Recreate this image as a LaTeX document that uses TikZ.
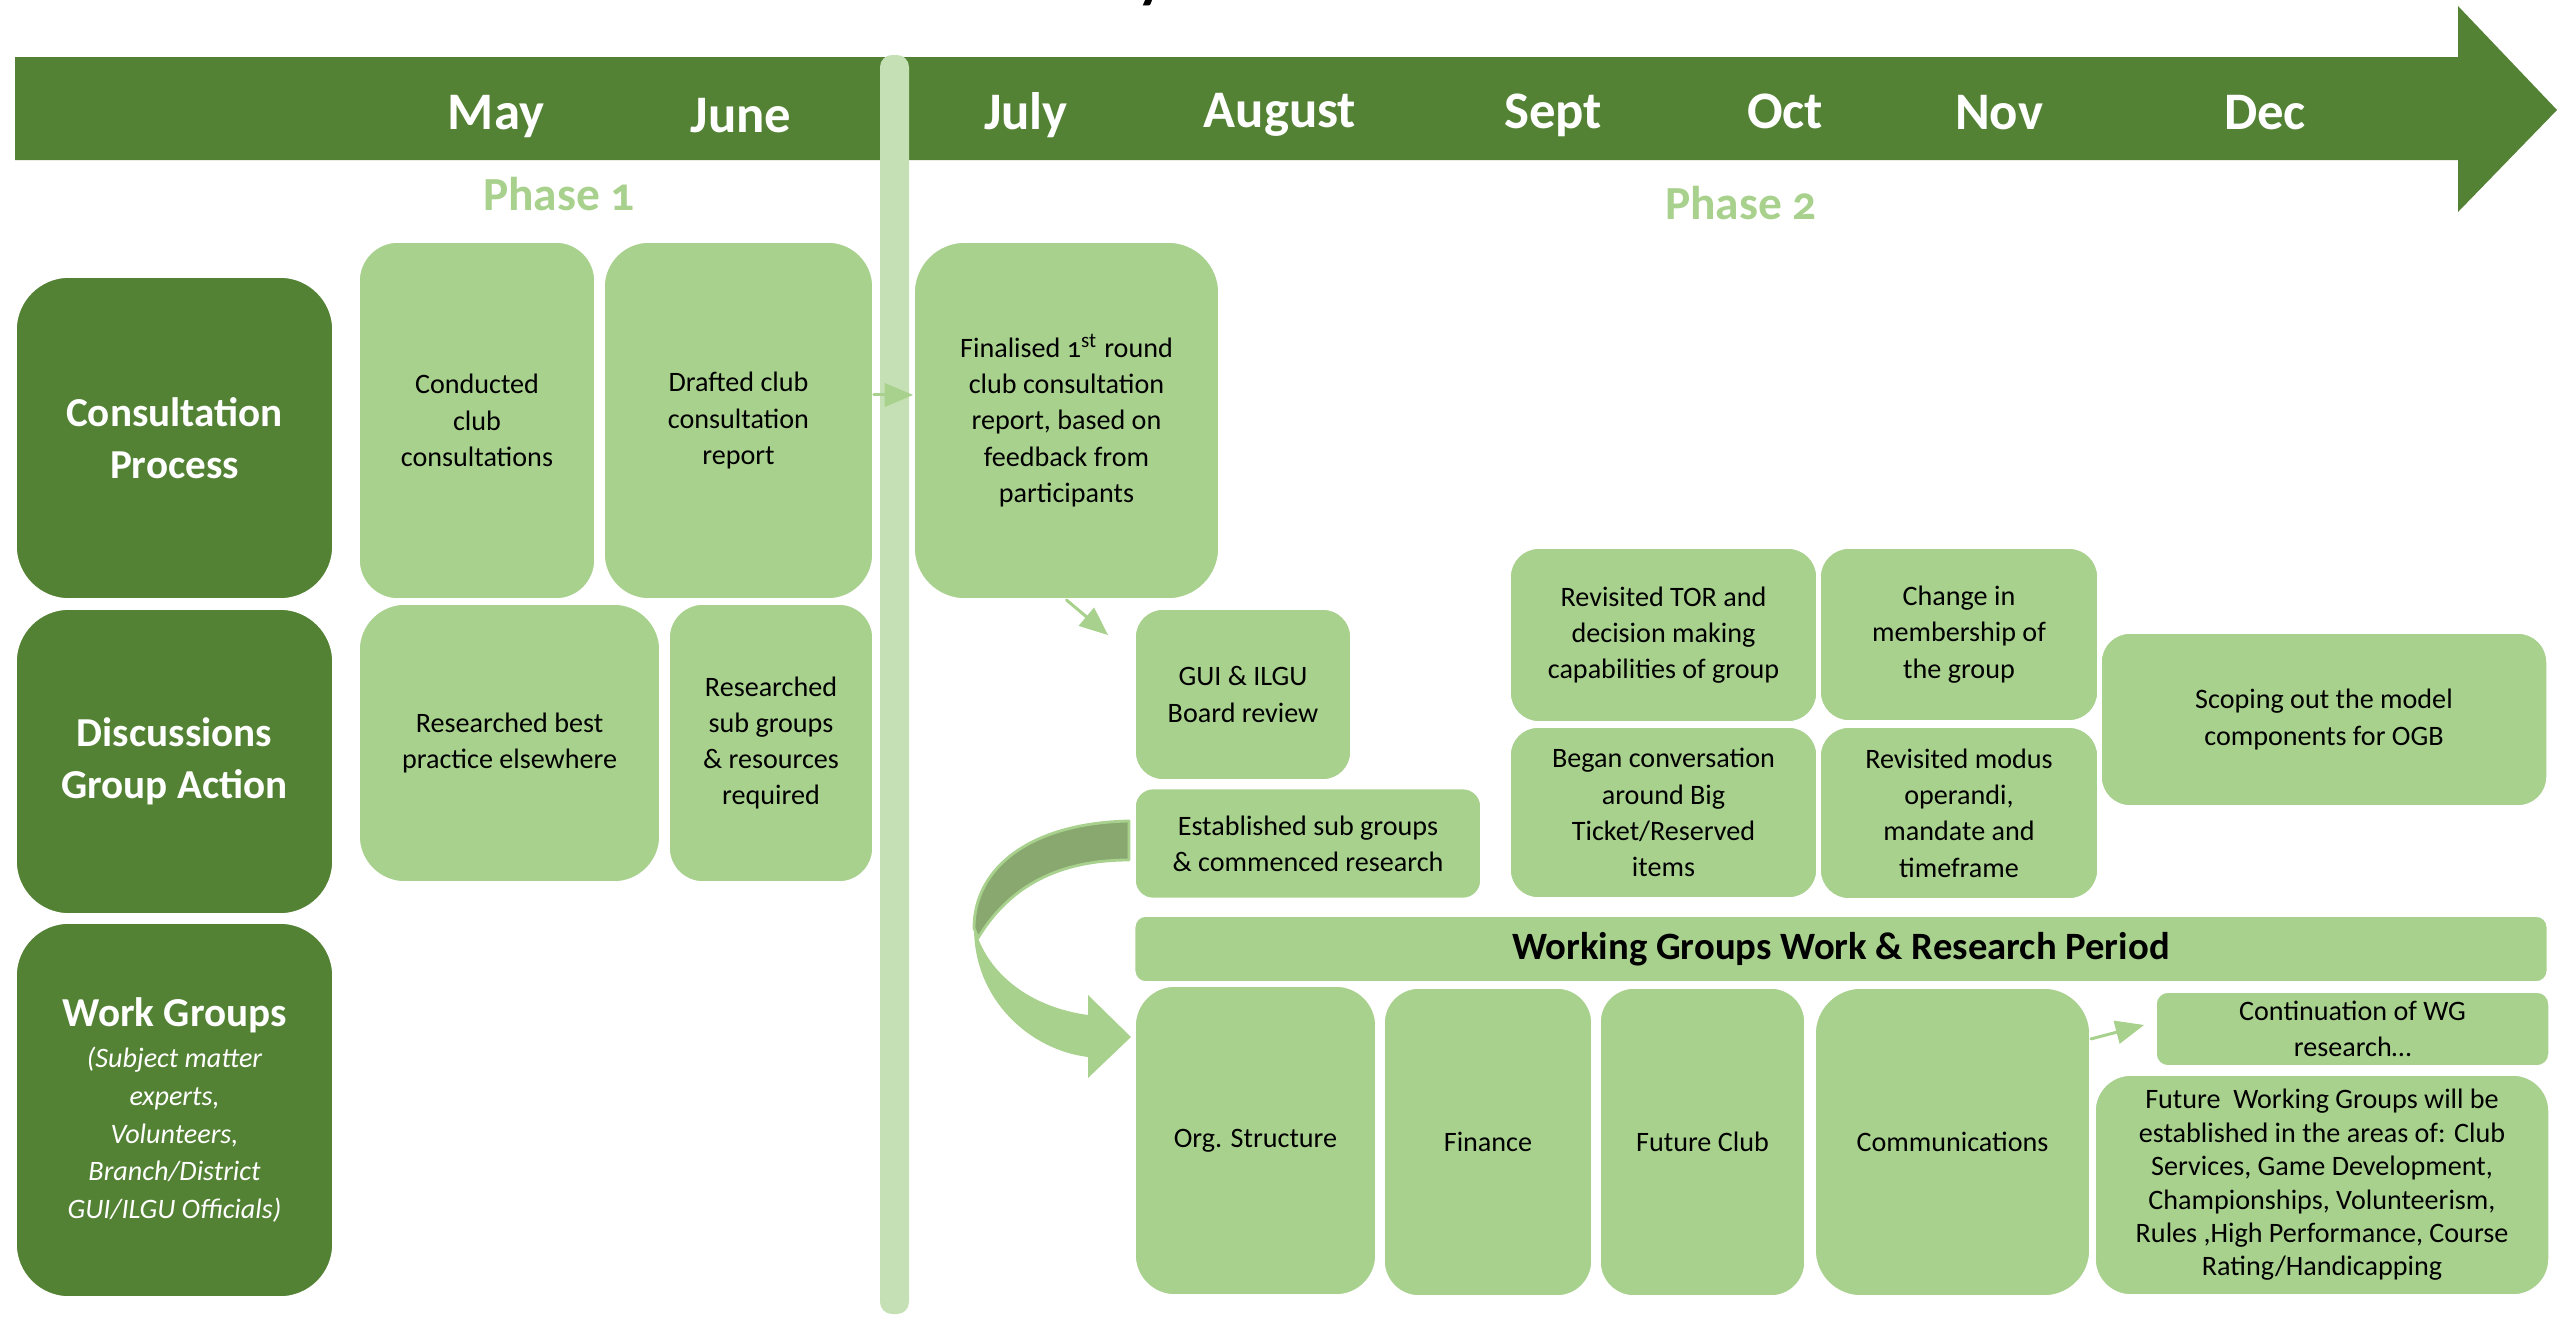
\documentclass[tikz,border=0pt]{standalone}
\usepackage{fontspec}
\setmainfont{Carlito}
\usepackage{tikz}
\usetikzlibrary{arrows}

\definecolor{darkgreen}{HTML}{548235}
\definecolor{lightgreen}{HTML}{A9D18E}
\definecolor{paleline}{HTML}{C5E0B4}
\definecolor{foldgreen}{HTML}{88A870}

\newcommand{\wgline}[1]{{\fontsize{8}{10.7}\selectfont\mdseries\itshape #1}}
\newcommand{\oldnum}[1]{{\addfontfeatures{Numbers=OldStyle}#1}}

\tikzset{
  head/.style={fill=darkgreen, draw=white, line width=0.5pt, text=white, align=center, inner sep=0pt,
    font=\fontsize{11.7}{14.7}\selectfont\bfseries, minimum width=3.17cm, rounded corners=0.53cm},
  task/.style={fill=lightgreen, draw=white, line width=0.5pt, text=black, align=center, inner sep=0pt,
    font=\fontsize{8}{10.3}\selectfont},
  month/.style={text=white, anchor=base, font=\fontsize{15}{18}\selectfont\bfseries},
  phase/.style={text=lightgreen, font=\fontsize{13.5}{16}\selectfont\bfseries},
  conn/.style={->, draw=lightgreen, line width=0.85pt},
}

\begin{document}
\begin{tikzpicture}[line cap=round,line join=round,>=triangle 45,x=0.01cm,y=-0.01cm]
\useasboundingbox (0,0) rectangle (2560,1318);
% cut title
\node[anchor=base, font=\fontsize{17}{20}\selectfont\bfseries] (title) at (1152,-4) {y};
% time band
\fill[darkgreen] (15,57) -- (2458,57) -- (2458,6) -- (2557,110) -- (2458,212) -- (2458,160) -- (15,160) -- cycle;
\foreach \mon/\px/\py in {May/496/129,June/741/133,July/1026/129,August/1280/127,Sept/1553/128,Oct/1785/128,Nov/1999/129,Dec/2265/129}
\node[month] (\mon) at (\px,\py) {\mon};
\fill[paleline, rounded corners=0.12cm] (880,55) rectangle (909,1314);
\node[phase] (phase1) at (559,194) {Phase \oldnum{1}};
\node[phase] (phase2) at (1741,203) {Phase \oldnum{2}};

% row headers
\node[head, minimum height=3.22cm] (cons) at (174.5,438) {Consultation\\Process};
\node[head, minimum height=3.05cm] (disc) at (174.5,761.5) {Discussions\\Group Action};
\node[head, minimum height=3.74cm, font=\fontsize{8}{10.7}\selectfont] (work) at (174.5,1110)
  {{\fontsize{11.7}{14}\selectfont\bfseries Work Groups}\\[1pt]\wgline{(Subject matter}\\\wgline{experts,}\\\wgline{Volunteers,}\\\wgline{Branch/District}\\\wgline{GUI/ILGU Officials)}};

% phase 1
\node[task, minimum width=2.36cm, minimum height=3.57cm, rounded corners=0.39cm] (conducted) at (477,420.5) {Conducted\\club\\consultations};
\node[task, minimum width=2.69cm, minimum height=3.57cm, rounded corners=0.45cm] (drafted) at (738.5,420.5) {Drafted club\\consultation\\report};
\node[task, minimum width=3.01cm, minimum height=2.78cm, rounded corners=0.46cm] (bestprac) at (509.5,743) {Researched best\\practice elsewhere};
\node[task, minimum width=2.04cm, minimum height=2.78cm, rounded corners=0.34cm] (subgrp) at (771,743) {Researched\\sub groups\\\& resources\\required};

% phase 2
\node[task, minimum width=3.05cm, minimum height=3.57cm, rounded corners=0.51cm] (final) at (1066.5,420.5) {Finalised \oldnum{1}\textsuperscript{st} round\\club consultation\\report, based on\\feedback from\\participants};
\node[task, minimum width=2.16cm, minimum height=1.71cm, rounded corners=0.28cm] (board) at (1243,694.5) {GUI \& ILGU\\Board review};
\node[task, minimum width=3.46cm, minimum height=1.10cm, rounded corners=0.18cm] (established) at (1308,843.5) {Established sub groups\\\& commenced research};
\node[task, minimum width=3.07cm, minimum height=1.74cm, rounded corners=0.29cm] (tor) at (1663.5,635) {Revisited TOR and\\decision making\\capabilities of group};
\node[task, minimum width=2.78cm, minimum height=1.73cm, rounded corners=0.29cm] (member) at (1959,634.5) {Change in\\membership of\\the group};
\node[task, minimum width=4.46cm, minimum height=1.73cm, rounded corners=0.29cm] (scoping) at (2324,719.5) {Scoping out the model\\components for OGB};
\node[task, minimum width=3.07cm, minimum height=1.71cm, rounded corners=0.28cm] (bigticket) at (1663.5,812.5) {Began conversation\\around Big\\Ticket/Reserved\\items};
\node[task, minimum width=2.78cm, minimum height=1.72cm, rounded corners=0.29cm] (modus) at (1959,813) {Revisited modus\\operandi,\\mandate and\\timeframe};
\node[task, minimum width=14.12cm, minimum height=0.66cm, rounded corners=0.11cm, font=\fontsize{11}{13}\selectfont\bfseries] (wgbar) at (1841,949) {Working Groups Work \& Research Period};
\node[task, minimum width=2.41cm, minimum height=3.09cm, rounded corners=0.4cm] (org) at (1255.5,1140.5) {Org. Structure};
\node[task, minimum width=2.08cm, minimum height=3.08cm, rounded corners=0.35cm] (finance) at (1488,1142) {Finance};
\node[task, minimum width=2.05cm, minimum height=3.08cm, rounded corners=0.34cm] (futclub) at (1702.5,1142) {Future Club};
\node[task, minimum width=2.75cm, minimum height=3.08cm, rounded corners=0.46cm] (comms) at (1952.5,1142) {Communications};
\node[task, minimum width=3.93cm, minimum height=0.74cm, rounded corners=0.12cm] (contin) at (2352.5,1029) {Continuation of WG\\research\ldots};
\node[task, minimum width=4.54cm, minimum height=2.20cm, rounded corners=0.36cm, font=\fontsize{8}{9.5}\selectfont] (futwg) at (2322,1185) {Future\ \ Working Groups will be\\established in the areas of: Club\\Services, Game Development,\\Championships, Volunteerism,\\Rules ,High Performance, Course\\Rating/Handicapping};

% connectors
\coordinate (boardin) at (1108,635);
\coordinate (continin) at (2144,1025);
\draw[conn] ([yshift=0.255cm]drafted.east) -- ([yshift=0.255cm]final.west);
\draw[conn] (final.south) -- (boardin);
\draw[conn] ([yshift=1.03cm]comms.east) -- (continin);

% turning arrow
\fill[lightgreen] (974,928) .. controls (974,1000) and (1030,1050) .. (1088,1057) -- (1088,1078) -- (1131,1037)
  -- (1088,995) -- (1088,1015) .. controls (1030,1007) and (992,975) .. (978,938) -- cycle;
\filldraw[fill=foldgreen, draw=lightgreen, line width=0.8pt] (1129,821) .. controls (1030,823) and (974,868) .. (974,928)
  -- (978,938) .. controls (1010,885) and (1060,860) .. (1129,860) -- cycle;
\end{tikzpicture}
\end{document}
